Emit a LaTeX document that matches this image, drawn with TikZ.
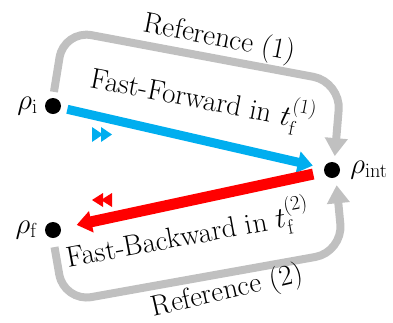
\documentclass[tikz,border=0pt]{standalone}
\usepackage{fix-cm}
\usepackage{amsmath}
\usepackage{tikz}
\usetikzlibrary{arrows.meta,positioning}
\definecolor{ffBlue}{RGB}{0,174,239}
\definecolor{fbRed}{RGB}{255,0,0}
\definecolor{refGray}{RGB}{192,192,192}

\begin{document}
\begin{tikzpicture}[x=1pt,y=-1pt,
  every node/.style={font=\fontsize{29}{35}\selectfont},
  state/.style={circle,fill=black,inner sep=0pt,minimum size=16pt},
  statelab/.style={inner sep=2pt},
  refpath/.style={refGray,line width=8pt,rounded corners=28pt,-{Triangle[length=18pt,width=22pt]}},
  fastpath/.style={line width=#1,-{Triangle[length=15pt,width=21pt]}}]
\useasboundingbox (0,0) rectangle (393,322);

\node[state] (ri) at (53,106) {};
\node[state] (rf) at (53,230) {};
\node[state] (rint) at (332,170) {};
\node[statelab,left=5pt of ri] (ri-lab) {$\rho_{\mathrm{i}}$};
\node[statelab,left=5pt of rf] (rf-lab) {$\rho_{\mathrm{f}}$};
\node[statelab,right=8pt of rint] (rint-lab) {$\rho_{\mathrm{int}}$};

\coordinate (c1) at (64,30);
\coordinate (c2) at (341,82);
\coordinate (c3) at (64,302);
\coordinate (c4) at (343,252);
\draw[refpath,shorten <=6pt,shorten >=6pt] (ri.north) -- (c1) -- (c2) -- (rint.74);
\draw[refpath,shorten <=9pt,shorten >=8pt] (rf.south) -- (c3) -- (c4) -- (rint.-62);

\draw[fastpath=9pt,ffBlue,shorten <=6.5pt,shorten >=11.5pt] (ri) -- (rint);
\draw[fastpath=11pt,fbRed,shorten <=11pt,shorten >=16pt] (rint) -- (rf);

\foreach \dx in {0,9}
  \fill[ffBlue] (92+\dx,127) -- ++(0,15) -- ++(11,-7.5) -- cycle;
\foreach \dx in {0,9}
  \fill[fbRed] (112-\dx,193) -- ++(0,14) -- ++(-11,-7) -- cycle;

\node[anchor=base,rotate=-11] (ref1) at (218,46) {Reference (1)};
\node[anchor=base,rotate=13] (ref2) at (229,299) {Reference (2)};
\node[anchor=base,rotate=-11] (fftext) at (201,109) {Fast-Forward in $t_{\mathrm{f}}^{(1)}$};
\node[anchor=base,rotate=10.5] (fbtext) at (190,245) {Fast-Backward in $t_{\mathrm{f}}^{(2)}$};
\end{tikzpicture}
\end{document}
